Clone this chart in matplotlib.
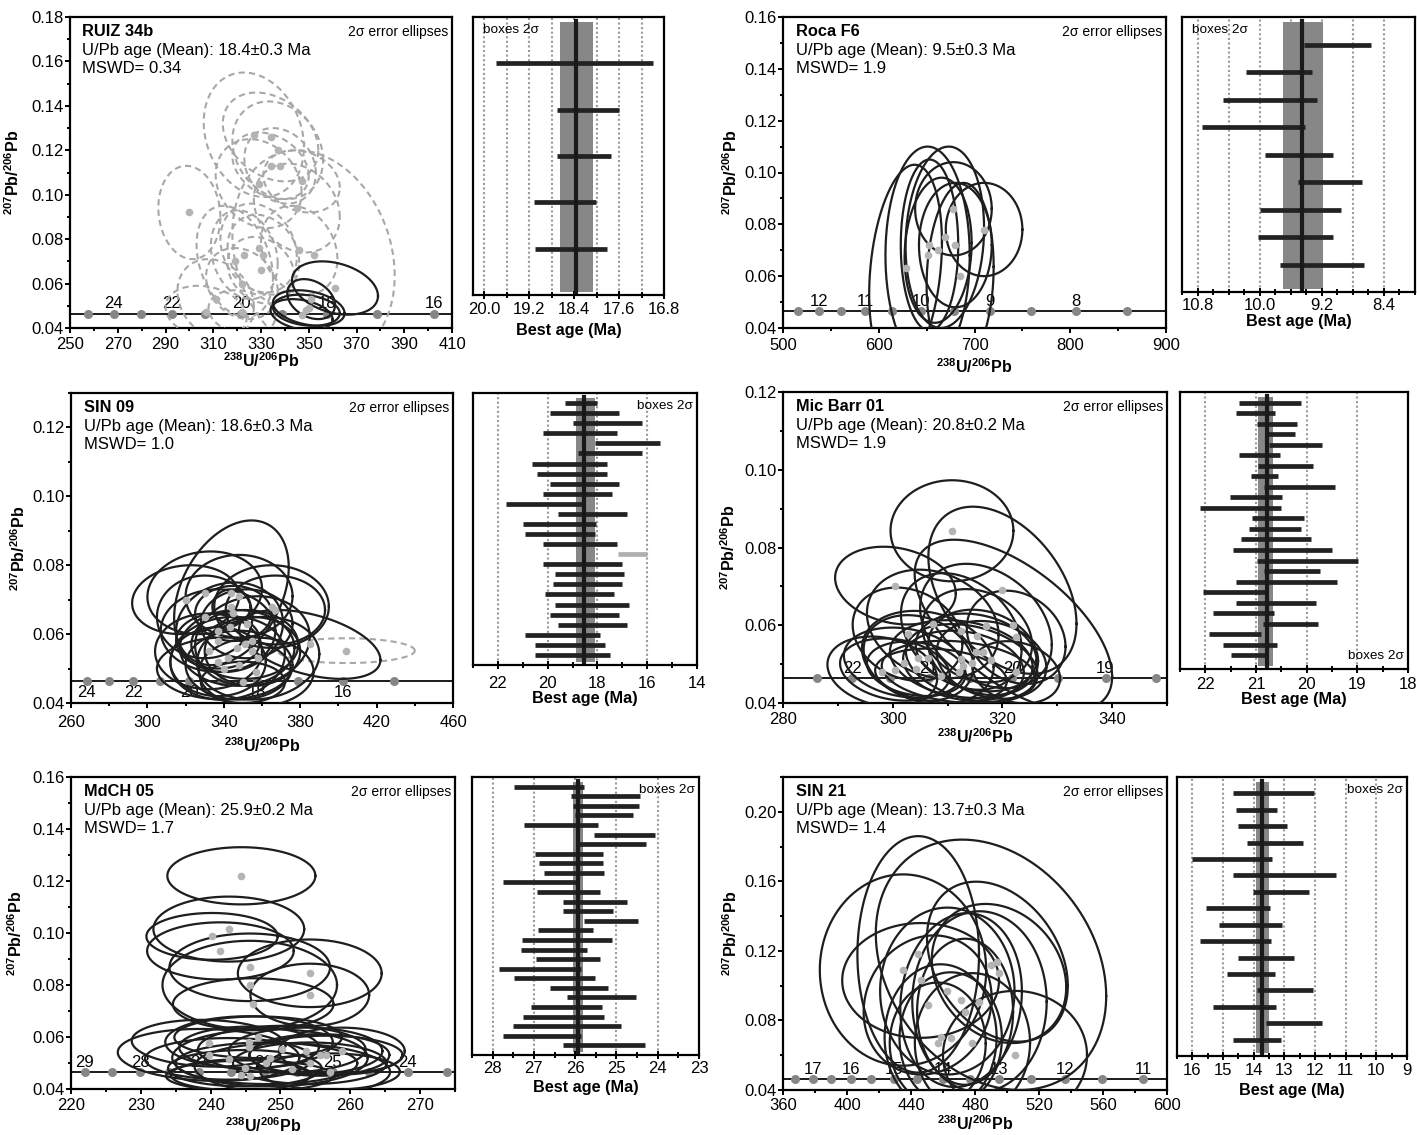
import numpy as np
import matplotlib
matplotlib.use("Agg")
import matplotlib.pyplot as plt
from matplotlib.ticker import MultipleLocator, FixedLocator, FormatStrFormatter

plt.rcParams["font.family"] = ["Liberation Sans", "DejaVu Sans"]
plt.rcParams["mathtext.fontset"] = "custom"
plt.rcParams["mathtext.rm"] = "Liberation Sans"
plt.rcParams["mathtext.bf"] = "Liberation Sans:bold"

W, H = 1417, 1135
CONC_Y = 0.0465

# ── RUIZ 34b ─────────────────────────────────────────────────────────────
RUIZ_X = [361, 351, 350, 349, 347]
RUIZ_Y = [0.058, 0.053, 0.049, 0.048, 0.046]
RUIZ_SX = [18, 10, 15, 14, 13]
RUIZ_SY = [0.012, 0.009, 0.008, 0.007, 0.007]
RUIZ_RHO = [-0.3, -0.3, -0.3, -0.2, -0.3]
RUIZ_DX = [327, 334, 337, 334, 338, 329, 347, 345, 300, 329, 331, 323, 319, 346, 352, 330, 322, 311, 307, 322]
RUIZ_DY = [0.127, 0.126, 0.120, 0.113, 0.113, 0.105, 0.106, 0.094, 0.092, 0.076,
           0.073, 0.073, 0.070, 0.075, 0.073, 0.066, 0.060, 0.053, 0.047, 0.047]
RUIZ_DSX = [21, 20, 19, 16, 15, 18, 16, 18, 13, 16, 15, 14, 16, 16, 34, 14, 15, 16, 17, 14]
RUIZ_DSY = [0.028, 0.020, 0.022, 0.015, 0.017, 0.020, 0.014, 0.020, 0.021, 0.020,
            0.018, 0.020, 0.025, 0.020, 0.047, 0.015, 0.016, 0.018, 0.012, 0.010]
RUIZ_DRHO = [-0.2, -0.3, -0.2, -0.3, -0.2, -0.2, -0.2, -0.2, -0.1, -0.2,
             -0.2, -0.2, -0.3, -0.2, -0.2, -0.2, -0.2, -0.2, -0.2, -0.2]
RUIZ_CONC = [257.5, 268.3, 279.9, 292.6, 306.5, 321.8, 338.8, 357.6, 378.6, 402.3]
RUIZ_LAB_AGE = [24, 22, 20, 18, 16]
RUIZ_LAB_X = [268.3, 292.6, 321.8, 357.6, 402.3]
RUIZ_XTICKS = [250, 270, 290, 310, 330, 350, 370, 390, 410]
RUIZ_AMAX = [19.79, 18.71, 18.71, 19.12, 19.10]
RUIZ_AMIN = [16.99, 17.60, 17.74, 18.01, 17.81]
RUIZ_MEAN, RUIZ_BOX = 18.36, (18.65, 18.07)
RUIZ_TICKS = [20.0, 19.2, 18.4, 17.6, 16.8]
RUIZ_GRID = [20.0, 19.6, 19.2, 18.8, 18.4, 18.0, 17.6, 17.2]

# ── Roca F6 ──────────────────────────────────────────────────────────────
ROCA_X = [628, 651, 669, 678, 710, 680, 662, 653, 685]
ROCA_Y = [0.063, 0.068, 0.075, 0.086, 0.078, 0.072, 0.070, 0.072, 0.060]
ROCA_SX = [38, 44, 41, 40, 40, 38, 35, 30, 35]
ROCA_SY = [0.040, 0.042, 0.035, 0.018, 0.018, 0.024, 0.028, 0.033, 0.036]
ROCA_RHO = [0.25, 0.0, 0.1, 0.0, 0.0, 0.0, 0.1, 0.0, 0.1]
ROCA_CONC = [515.2, 537.2, 560.5, 586.1, 614.0, 644.6, 678.6, 716.3, 758.5, 805.9, 859.6]
ROCA_LAB_AGE = [12, 11, 10, 9, 8]
ROCA_LAB_X = [537.2, 586.1, 644.6, 716.3, 805.9]
ROCA_XTICKS = [500, 600, 700, 800, 900]
ROCA_AMAX = [9.43, 10.18, 10.47, 10.74, 9.93, 9.51, 10.00, 10.02, 9.74]
ROCA_AMIN = [8.57, 9.33, 9.26, 9.41, 9.05, 8.68, 8.95, 9.05, 8.66]
ROCA_MEAN, ROCA_BOX = 9.45, (9.70, 9.19)
ROCA_TICKS = [10.8, 10.0, 9.2, 8.4]
ROCA_GRID = [10.8, 10.4, 10.0, 9.6, 9.2, 8.8, 8.4]

# ── SIN 09 ───────────────────────────────────────────────────────────────
SIN09_X = [344, 330, 320, 348, 365, 367, 330, 344, 337, 385, 332, 337, 342,
           347, 351, 355, 355, 348, 357, 350, 337, 343, 352, 340, 345, 358]
SIN09_Y = [0.072, 0.072, 0.070, 0.071, 0.068, 0.067, 0.065, 0.068, 0.061, 0.057, 0.055, 0.052, 0.053,
           0.056, 0.057, 0.058, 0.055, 0.051, 0.049, 0.046, 0.058, 0.062, 0.063, 0.050, 0.066, 0.053]
SIN09_SX = [30, 30, 28, 28, 30, 26, 25, 10, 30, 37, 28, 25, 30,
            30, 28, 30, 25, 28, 30, 22, 22, 28, 24, 35, 20, 32]
SIN09_SY = [0.021, 0.012, 0.010, 0.012, 0.012, 0.010, 0.012, 0.005, 0.012, 0.010, 0.011, 0.010, 0.012,
            0.011, 0.010, 0.013, 0.010, 0.010, 0.010, 0.006, 0.008, 0.013, 0.010, 0.009, 0.008, 0.012]
SIN09_RHO = [0.35, 0.1, 0.1, 0.0, 0.0, 0.0, 0.0, 0.0, 0.0, -0.45, 0.0, 0.0, 0.1,
             0.0, 0.0, 0.1, 0.0, 0.0, 0.0, 0.0, 0.0, 0.1, 0.0, 0.0, 0.0, 0.1]
SIN09_DX, SIN09_DY, SIN09_DSX, SIN09_DSY, SIN09_DRHO = [404], [0.0552], [36], [0.0036], [0.0]
SIN09_CONC = [268.3, 279.9, 292.6, 306.5, 321.8, 338.8, 357.6, 378.6, 402.3, 429.1]
SIN09_LAB_AGE = [24, 22, 20, 18, 16]
SIN09_LAB_X = [268.3, 292.6, 321.8, 357.6, 402.3]
SIN09_XTICKS = [260, 300, 340, 380, 420, 460]
SIN09_AMAX = [19.30, 19.89, 18.99, 20.20, 18.08, 18.78, 20.61, 20.41, 19.89, 20.20, 21.69, 19.59, 21.01,
              20.91, 20.20, 17.19, 20.20, 19.70, 19.80, 20.09, 19.70, 19.89, 19.59, 20.91, 20.50, 20.50]
SIN09_AMIN = [18.01, 17.12, 16.22, 17.23, 15.50, 16.22, 17.61, 17.61, 17.12, 17.41, 18.58, 16.82, 18.04,
              18.11, 17.23, 16.01, 17.01, 16.93, 17.01, 17.32, 16.72, 17.12, 16.82, 17.91, 17.70, 17.50]
SIN09_REJECT = [15]
SIN09_MEAN, SIN09_BOX = 18.53, (18.88, 18.09)
SIN09_TICKS = [22, 20, 18, 16, 14]
SIN09_GRID = [22, 20, 18, 16]

# ── Mic Barr 01 ──────────────────────────────────────────────────────────
MICB_X = [310.8, 320, 300.5, 322, 307.3, 317, 302.7, 312.5, 315.4, 322.5, 315.2, 316.5, 304.7,
          306.4, 312.5, 318, 302.1, 304.3, 300.4, 298.1, 312.9, 314.4, 312, 308.8, 322.5]
MICB_Y = [0.0843, 0.069, 0.0702, 0.060, 0.0603, 0.0598, 0.0577, 0.0584, 0.0573, 0.0569, 0.053, 0.053, 0.0516,
          0.0517, 0.0513, 0.0511, 0.0504, 0.0488, 0.0486, 0.0481, 0.0496, 0.0503, 0.048, 0.047, 0.0479]
MICB_SX = [11.2, 13.5, 11, 18, 12, 12, 10, 11, 10, 9, 11, 10, 10,
           12, 13, 10, 11, 9, 10, 10, 11, 12, 14, 12, 8]
MICB_SY = [0.013, 0.0215, 0.010, 0.022, 0.014, 0.016, 0.012, 0.015, 0.012, 0.012, 0.010, 0.011, 0.011,
           0.012, 0.010, 0.010, 0.009, 0.007, 0.008, 0.009, 0.009, 0.010, 0.008, 0.007, 0.008]
MICB_RHO = [0.0, -0.4, -0.2, -0.6, -0.2, -0.3, -0.2, -0.3, -0.2, -0.2, -0.2, -0.2, -0.2,
            -0.2, -0.2, -0.2, -0.2, -0.2, -0.2, -0.2, -0.2, -0.3, -0.2, -0.2, -0.2]
MICB_CONC = [286.2, 292.6, 299.5, 306.6, 314.1, 321.8, 330.2, 338.8, 348.0]
MICB_LAB_AGE = [22, 21, 20, 19]
MICB_LAB_X = [292.6, 306.6, 321.8, 338.8]
MICB_XTICKS = [280, 300, 320, 340]
MICB_AMAX = [21.33, 21.39, 20.99, 20.83, 20.75, 21.34, 20.97, 21.10, 20.85, 21.52, 22.11, 21.07, 21.13,
             21.30, 21.46, 20.99, 20.85, 21.39, 22.05, 21.39, 21.85, 20.86, 21.93, 21.66, 21.49]
MICB_AMIN = [20.11, 20.62, 20.19, 20.24, 19.70, 20.52, 19.88, 20.57, 19.44, 20.49, 20.51, 20.06, 20.11,
             19.91, 19.50, 18.99, 19.73, 19.40, 20.78, 19.81, 20.65, 19.78, 20.90, 20.59, 20.78]
MICB_MEAN, MICB_BOX = 20.78, (20.96, 20.66)
MICB_TICKS = [22, 21, 20, 19, 18]
MICB_GRID = [22, 21, 20, 19]

# ── MdCH 05 ──────────────────────────────────────────────────────────────
MDCH_X = [244.4, 242.6, 240.2, 241.4, 245.6, 254.2, 245.6, 254.2, 246.1, 246.8, 239.7, 245.5, 245.5, 239.7,
          242.6, 250.2, 253.6, 255.6, 256.5, 258.8, 254.2, 248, 244.9, 244.3, 245.6, 251.7, 257.1, 248.5]
MDCH_Y = [0.122, 0.1015, 0.0987, 0.0931, 0.0868, 0.0845, 0.080, 0.0762, 0.0726, 0.0599, 0.0576, 0.058, 0.056,
          0.0531, 0.0516, 0.0553, 0.0546, 0.0531, 0.053, 0.0546, 0.0499, 0.0499, 0.048, 0.0454, 0.045, 0.0476,
          0.0467, 0.052]
MDCH_SX = [10.6, 10.8, 9.4, 10.5, 11.5, 10.3, 12.5, 8.5, 11.5, 12, 11, 12, 10, 13,
           12, 12, 11, 10, 11, 9, 11, 13, 11, 10, 12, 14, 10, 14]
MDCH_SY = [0.011, 0.0125, 0.009, 0.011, 0.013, 0.013, 0.017, 0.012, 0.010, 0.008, 0.009, 0.010, 0.008, 0.010,
           0.008, 0.009, 0.009, 0.008, 0.0075, 0.009, 0.008, 0.008, 0.007, 0.006, 0.006, 0.010, 0.007, 0.011]
MDCH_RHO = [0.0, 0.0, 0.0, 0.0, 0.0, 0.0, 0.0, 0.0, 0.0, 0.0, -0.1, 0.0, 0.0, -0.1,
            0.0, 0.0, 0.0, 0.0, 0.0, 0.0, 0.0, 0.0, 0.0, 0.0, 0.0, -0.1, 0.0, 0.0]
MDCH_CONC = [222.0, 225.9, 229.9, 234.1, 238.4, 242.9, 247.6, 252.4, 257.5, 262.7, 268.2, 273.9]
MDCH_LAB_AGE = [29, 28, 27, 26, 25, 24]
MDCH_LAB_X = [222.0, 229.9, 238.4, 247.6, 257.5, 268.2]
MDCH_XTICKS = [220, 230, 240, 250, 260, 270]
MDCH_AMAX = [27.48, 26.10, 26.05, 26.01, 27.23, 25.54, 25.93, 26.98, 26.88, 26.75, 27.74, 26.92, 26.29, 26.29,
             25.79, 26.91, 27.28, 27.32, 26.95, 27.84, 27.48, 26.61, 26.19, 27.06, 27.26, 27.50, 27.74, 26.29]
MDCH_AMIN = [25.78, 24.42, 24.45, 24.60, 25.44, 24.07, 24.29, 25.32, 25.32, 25.30, 25.97, 25.40, 24.74, 25.08,
             24.49, 25.58, 25.10, 25.71, 25.40, 25.87, 25.52, 25.21, 24.53, 25.35, 25.29, 24.90, 25.87, 24.30]
MDCH_MEAN, MDCH_BOX = 25.93, (26.05, 25.81)
MDCH_TICKS = [28, 27, 26, 25, 24, 23]
MDCH_GRID = [28, 27, 26, 25, 24]

# ── SIN 21 ───────────────────────────────────────────────────────────────
SIN21_X = [444.5, 490, 435, 446, 494, 495, 450.4, 462.7, 471.3, 473.8, 482.8, 505, 458.5, 456.7, 464.8, 478.4]
SIN21_Y = [0.118, 0.112, 0.109, 0.103, 0.1138, 0.107, 0.0889, 0.0969, 0.0917, 0.085, 0.0908, 0.060,
           0.0703, 0.0668, 0.0697, 0.0672]
SIN21_SX = [38, 72, 52, 49, 44, 42, 40, 42, 38, 30, 42, 45, 35, 30, 32, 36]
SIN21_SY = [0.068, 0.072, 0.055, 0.033, 0.046, 0.040, 0.040, 0.048, 0.050, 0.042, 0.052, 0.037,
            0.042, 0.035, 0.038, 0.040]
SIN21_RHO = [0.0, -0.25, 0.0, 0.0, -0.3, -0.2, 0.1, 0.0, 0.1, 0.0, 0.0, 0.0, 0.0, 0.0, 0.0, 0.0]
SIN21_CONC = [367.8, 378.6, 390.1, 402.3, 415.3, 429.1, 443.9, 459.7, 476.6, 495.0, 514.7, 536.2, 559.6, 585.0]
SIN21_LAB_AGE = [17, 16, 15, 14, 13, 12, 11]
SIN21_LAB_X = [378.6, 402.3, 429.1, 459.7, 495.0, 536.2, 585.0]
SIN21_XTICKS = [360, 400, 440, 480, 520, 560, 600]
SIN21_AMAX = [14.68, 14.57, 14.50, 14.22, 16.00, 14.66, 14.03, 15.54, 15.14, 15.76, 14.52, 14.88,
              13.89, 15.34, 13.61, 14.68]
SIN21_AMIN = [12.03, 13.23, 12.91, 12.38, 13.40, 11.33, 12.18, 13.46, 13.06, 13.43, 12.69, 13.30,
              12.07, 13.26, 11.78, 13.12]
SIN21_MEAN, SIN21_BOX = 13.73, (13.92, 13.51)
SIN21_TICKS = [16, 15, 14, 13, 12, 11, 10, 9]
SIN21_GRID = [16, 15, 14, 13, 12, 11, 10]


def px_rect(l, t, r, b):
    return [l / W, 1 - b / H, (r - l) / W, (b - t) / H]


def draw_ellipses(ax, xs, ys, sxs, sys_, rhos, dashed=False):
    t = np.linspace(0, 2 * np.pi, 240)
    for cx, cy, sx, sy, r in zip(xs, ys, sxs, sys_, rhos):
        ex = cx + sx * np.cos(t)
        ey = cy + sy * (r * np.cos(t) + np.sqrt(1 - r * r) * np.sin(t))
        if dashed:
            ax.plot(ex, ey, color="#a8a8a8", lw=1.5, ls=(0, (3, 2)), zorder=3)
        else:
            ax.plot(ex, ey, color="#1e1e1e", lw=1.6, zorder=4)


def tw_panel(ax, p):
    ax.axhline(CONC_Y, color="#1a1a1a", lw=1.4, zorder=2)
    ax.plot(p["conc"], np.full(len(p["conc"]), CONC_Y), "o", color="#868686",
            ms=6.5, mec="none", zorder=2.5)
    for age, xa in zip(p["lab_age"], p["lab_x"]):
        if p["below"]:
            ax.annotate(str(age), (xa, CONC_Y), xytext=(0, -3), textcoords="offset points",
                        ha="center", va="top", fontsize=12, zorder=2.6)
        else:
            ax.annotate(str(age), (xa, CONC_Y), xytext=(0, 1.5), textcoords="offset points",
                        ha="center", va="bottom", fontsize=12, zorder=2.6)

    cx, cy = list(p["el"][0]), list(p["el"][1])
    if p.get("dash"):
        draw_ellipses(ax, *p["dash"], dashed=True)
        cx += list(p["dash"][0])
        cy += list(p["dash"][1])
    draw_ellipses(ax, *p["el"])
    ax.plot(cx, cy, "o", color="#b4b4b4", ms=5.5, mec="none", zorder=5)

    ax.set_xlim(p["xlim"])
    ax.set_ylim(p["ylim"])
    ax.xaxis.set_major_locator(FixedLocator(p["xticks"]))
    ax.xaxis.set_minor_locator(MultipleLocator(p["xmin"]))
    ax.yaxis.set_major_locator(MultipleLocator(p["ymaj"]))
    ax.yaxis.set_minor_locator(MultipleLocator(p["ymin"]))
    ax.yaxis.set_major_formatter(FormatStrFormatter("%.2f"))
    ax.tick_params(which="both", direction="out", width=1.4, labelsize=12, top=False, right=False)
    ax.tick_params(which="major", length=3.5)
    ax.tick_params(which="minor", length=2.2)
    ax.tick_params(axis="x", pad=p["xpad"])
    ax.tick_params(axis="y", pad=1)
    for s in ax.spines.values():
        s.set_linewidth(1.6)

    ax.set_xlabel(r"$\mathbf{^{238}U/^{206}Pb}$", fontsize=11.5, labelpad=p["xlabpad"])
    ax.set_ylabel(r"$\mathbf{^{207}Pb/^{206}Pb}$", fontsize=11.5)
    ax.yaxis.set_label_coords(p["ylab_x"], 0.5)

    ax.annotate(p["name"], (0, 1), xycoords="axes fraction", xytext=(9, -5),
                textcoords="offset points", ha="left", va="top", fontsize=11.8, fontweight="bold")
    ax.annotate(f"U/Pb age (Mean): {p['age']}", (0, 1), xycoords="axes fraction", xytext=(9, -18.5),
                textcoords="offset points", ha="left", va="top", fontsize=12)
    ax.annotate(f"MSWD= {p['mswd']}", (0, 1), xycoords="axes fraction", xytext=(9, -32),
                textcoords="offset points", ha="left", va="top", fontsize=12)
    ax.annotate("2σ error ellipses", (1, 1), xycoords="axes fraction", xytext=(-2.5, -6),
                textcoords="offset points", ha="right", va="top", fontsize=10)


def age_panel(ax, p):
    n = len(p["amax"])
    ys = np.arange(1, n + 1)
    for g in p["grid"]:
        ax.axvline(g, color="#9a9a9a", lw=1.5, ls=(0, (1, 1.2)), zorder=0)
    ax.axvspan(p["box"][0], p["box"][1], ymin=0.012, ymax=0.982, color="#878787", lw=0, zorder=1)
    colors = ["#b0b0b0" if i in p.get("reject", []) else "#222222" for i in range(n)]
    ax.hlines(ys, p["amin"], p["amax"], colors=colors, lw=3.4, zorder=3)
    ax.axvline(p["mean"], ymin=0.01, ymax=0.985, color="#1a1a1a", lw=3.0, zorder=4)

    ax.set_xlim(p["xlim"])
    ax.set_ylim(p["ytop"], 0)
    ax.set_yticks([])
    ax.xaxis.set_major_locator(FixedLocator(p["ticks"]))
    ax.xaxis.set_minor_locator(MultipleLocator(p["minor"]))
    ax.xaxis.set_major_formatter(FormatStrFormatter(p["fmt"]))
    ax.tick_params(axis="x", which="both", direction="inout", width=1.4, labelsize=12, pad=p["xpad"])
    ax.tick_params(axis="x", which="major", length=6)
    ax.tick_params(axis="x", which="minor", length=5)
    for s in ax.spines.values():
        s.set_linewidth(1.6)
    ax.set_xlabel("Best age (Ma)", fontsize=11.7, fontweight="bold", labelpad=p["xlabpad"])

    xy, off, ha, va = {
        "tl": ((0, 1), (7, -5), "left", "top"),
        "tr": ((1, 1), (-3, -5), "right", "top"),
        "br": ((1, 0), (-3, 5), "right", "bottom"),
    }[p["boxes_pos"]]
    ax.annotate("boxes 2σ", xy, xycoords="axes fraction", xytext=off, textcoords="offset points",
                ha=ha, va=va, fontsize=9.7, zorder=6)


def build_panels():
    tw = [
        dict(rect=(70, 17, 452, 328), name="RUIZ 34b", age="18.4±0.3 Ma", mswd="0.34",
             el=(RUIZ_X, RUIZ_Y, RUIZ_SX, RUIZ_SY, RUIZ_RHO),
             dash=(RUIZ_DX, RUIZ_DY, RUIZ_DSX, RUIZ_DSY, RUIZ_DRHO),
             conc=RUIZ_CONC, lab_age=RUIZ_LAB_AGE, lab_x=RUIZ_LAB_X, below=False, xticks=RUIZ_XTICKS,
             xlim=(250, 410), ylim=(0.04, 0.18), xmin=10, ymaj=0.02, ymin=0.01,
             xpad=3, xlabpad=-0.5, ylab_x=-0.125),
        dict(rect=(783, 17, 1166, 328), name="Roca F6", age="9.5±0.3 Ma", mswd="1.9",
             el=(ROCA_X, ROCA_Y, ROCA_SX, ROCA_SY, ROCA_RHO),
             conc=ROCA_CONC, lab_age=ROCA_LAB_AGE, lab_x=ROCA_LAB_X, below=False, xticks=ROCA_XTICKS,
             xlim=(500, 900), ylim=(0.04, 0.16), xmin=50, ymaj=0.02, ymin=0.01,
             xpad=3.5, xlabpad=3.3, ylab_x=-0.112),
        dict(rect=(71, 393, 453, 703), name="SIN 09", age="18.6±0.3 Ma", mswd="1.0",
             el=(SIN09_X, SIN09_Y, SIN09_SX, SIN09_SY, SIN09_RHO),
             dash=(SIN09_DX, SIN09_DY, SIN09_DSX, SIN09_DSY, SIN09_DRHO),
             conc=SIN09_CONC, lab_age=SIN09_LAB_AGE, lab_x=SIN09_LAB_X, below=True, xticks=SIN09_XTICKS,
             xlim=(260, 460), ylim=(0.04, 0.13), xmin=20, ymaj=0.02, ymin=0.01,
             xpad=5, xlabpad=5, ylab_x=-0.112),
        dict(rect=(783, 392, 1167, 703), name="Mic Barr 01", age="20.8±0.2 Ma", mswd="1.9",
             el=(MICB_X, MICB_Y, MICB_SX, MICB_SY, MICB_RHO),
             conc=MICB_CONC, lab_age=MICB_LAB_AGE, lab_x=MICB_LAB_X, below=False, xticks=MICB_XTICKS,
             xlim=(280, 350), ylim=(0.04, 0.12), xmin=10, ymaj=0.02, ymin=0.01,
             xpad=3, xlabpad=0, ylab_x=-0.118),
        dict(rect=(71, 777, 455, 1089), name="MdCH 05", age="25.9±0.2 Ma", mswd="1.7",
             el=(MDCH_X, MDCH_Y, MDCH_SX, MDCH_SY, MDCH_RHO),
             conc=MDCH_CONC, lab_age=MDCH_LAB_AGE, lab_x=MDCH_LAB_X, below=False, xticks=MDCH_XTICKS,
             xlim=(220, 275), ylim=(0.04, 0.16), xmin=5, ymaj=0.02, ymin=0.01,
             xpad=3, xlabpad=2.5, ylab_x=-0.12),
        dict(rect=(783, 777, 1167, 1090), name="SIN 21", age="13.7±0.3 Ma", mswd="1.4",
             el=(SIN21_X, SIN21_Y, SIN21_SX, SIN21_SY, SIN21_RHO),
             conc=SIN21_CONC, lab_age=SIN21_LAB_AGE, lab_x=SIN21_LAB_X, below=False, xticks=SIN21_XTICKS,
             xlim=(360, 600), ylim=(0.04, 0.22), xmin=20, ymaj=0.04, ymin=0.02,
             xpad=2.5, xlabpad=0.5, ylab_x=-0.112),
    ]
    ages = [
        dict(rect=(473, 17, 664, 295), amax=RUIZ_AMAX, amin=RUIZ_AMIN, mean=RUIZ_MEAN, box=RUIZ_BOX,
             ticks=RUIZ_TICKS, grid=RUIZ_GRID, minor=0.4, fmt="%.1f", xlim=(20.2, 16.8), ytop=6,
             xpad=2, xlabpad=4.5, boxes_pos="tl"),
        dict(rect=(1182, 17, 1415, 292), amax=ROCA_AMAX, amin=ROCA_AMIN, mean=ROCA_MEAN, box=ROCA_BOX,
             ticks=ROCA_TICKS, grid=ROCA_GRID, minor=0.2, fmt="%.1f", xlim=(11.0, 8.0), ytop=10,
             xpad=1.5, xlabpad=0.5, boxes_pos="tl"),
        dict(rect=(473, 393, 697, 665), amax=SIN09_AMAX, amin=SIN09_AMIN, mean=SIN09_MEAN, box=SIN09_BOX,
             ticks=SIN09_TICKS, grid=SIN09_GRID, minor=1, fmt="%d", xlim=(23, 14), ytop=27,
             xpad=5, xlabpad=0, boxes_pos="tr", reject=SIN09_REJECT),
        dict(rect=(1180, 392, 1408, 669), amax=MICB_AMAX, amin=MICB_AMIN, mean=MICB_MEAN, box=MICB_BOX,
             ticks=MICB_TICKS, grid=MICB_GRID, minor=0.5, fmt="%d", xlim=(22.5, 18), ytop=26.3,
             xpad=3, xlabpad=0, boxes_pos="br"),
        dict(rect=(472, 777, 699, 1055), amax=MDCH_AMAX, amin=MDCH_AMIN, mean=MDCH_MEAN, box=MDCH_BOX,
             ticks=MDCH_TICKS, grid=MDCH_GRID, minor=0.5, fmt="%d", xlim=(28.5, 23), ytop=29,
             xpad=1, xlabpad=3.5, boxes_pos="tr"),
        dict(rect=(1177, 777, 1407, 1056), amax=SIN21_AMAX, amin=SIN21_AMIN, mean=SIN21_MEAN, box=SIN21_BOX,
             ticks=SIN21_TICKS, grid=SIN21_GRID, minor=0.5, fmt="%d", xlim=(16.5, 9), ytop=17,
             xpad=2, xlabpad=3.5, boxes_pos="tr"),
    ]
    return tw, ages


def main():
    fig = plt.figure(figsize=(W / 100, H / 100), dpi=100)
    tw, ages = build_panels()
    for p in tw:
        tw_panel(fig.add_axes(px_rect(*p["rect"])), p)
    for p in ages:
        age_panel(fig.add_axes(px_rect(*p["rect"])), p)
    fig.savefig("out.png", dpi=100)
    plt.close(fig)


if __name__ == "__main__":
    main()
